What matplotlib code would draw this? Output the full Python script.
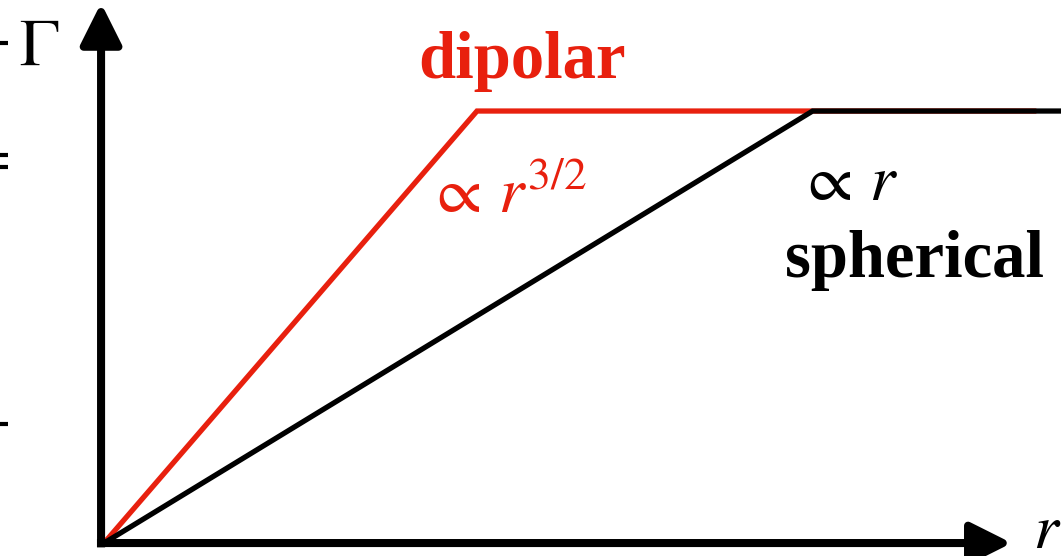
import matplotlib
matplotlib.use('Agg')
import matplotlib.pyplot as plt

plt.rcParams['mathtext.fontset'] = 'stix'

# saturation curves: linear rise then flat plateau
r_dipolar = [0.0, 1.0, 2.5]
g_dipolar = [0.0, 1.0, 1.0]
r_spherical = [0.0, 1.9, 2.6]
g_spherical = [0.0, 1.0, 1.0]

# little marks on the left edge
tick_levels = [1.157, 0.898, 0.870, 0.275]

RED = '#e8200e'

fig = plt.figure(figsize=(10.61, 5.56), dpi=100)
ax = fig.add_axes([0, 0, 1, 1])
ax.set_xlim(-0.279, 2.566)
ax.set_ylim(-0.030, 1.257)
ax.axis('off')

ax.plot(r_dipolar, g_dipolar, color=RED, lw=3.8, solid_capstyle='butt',
        solid_joinstyle='miter')
ax.plot(r_spherical, g_spherical, color='black', lw=3.8,
        solid_capstyle='butt', solid_joinstyle='miter')

# axes with arrow heads
head = dict(arrowstyle='-|>,head_length=0.5,head_width=0.25',
            mutation_scale=50, lw=5.8, color='black',
            shrinkA=0, shrinkB=0, capstyle='butt')
ax.annotate('', xy=(-0.008, 1.250), xytext=(-0.008, -0.010),
            arrowprops=head)
ax.annotate('', xy=(2.434, 0.0), xytext=(-0.019, 0.0),
            arrowprops=head)

ax.hlines(tick_levels, -0.279, -0.257, color='black', lw=3)

ax.text(-0.174, 1.106, r'$\Gamma$', fontsize=48, ha='center',
        va='baseline')
ax.text(2.490, -0.012, r'$r$', fontsize=46, ha='left', va='baseline')

ax.text(1.121, 1.076, 'dipolar', color=RED, fontsize=48,
        family='Liberation Serif', weight='bold', ha='center',
        va='baseline')
ax.text(0.866, 0.764, r'$\propto\, r^{3/2}$', color=RED, fontsize=47,
        ha='left', va='baseline')
ax.text(1.862, 0.794, r'$\propto\, r$', color='black', fontsize=47,
        ha='left', va='baseline')
ax.text(1.826, 0.616, 'spherical', color='black', fontsize=48,
        family='Liberation Serif', weight='bold', ha='left',
        va='baseline')

fig.savefig('out.png', dpi=100)
